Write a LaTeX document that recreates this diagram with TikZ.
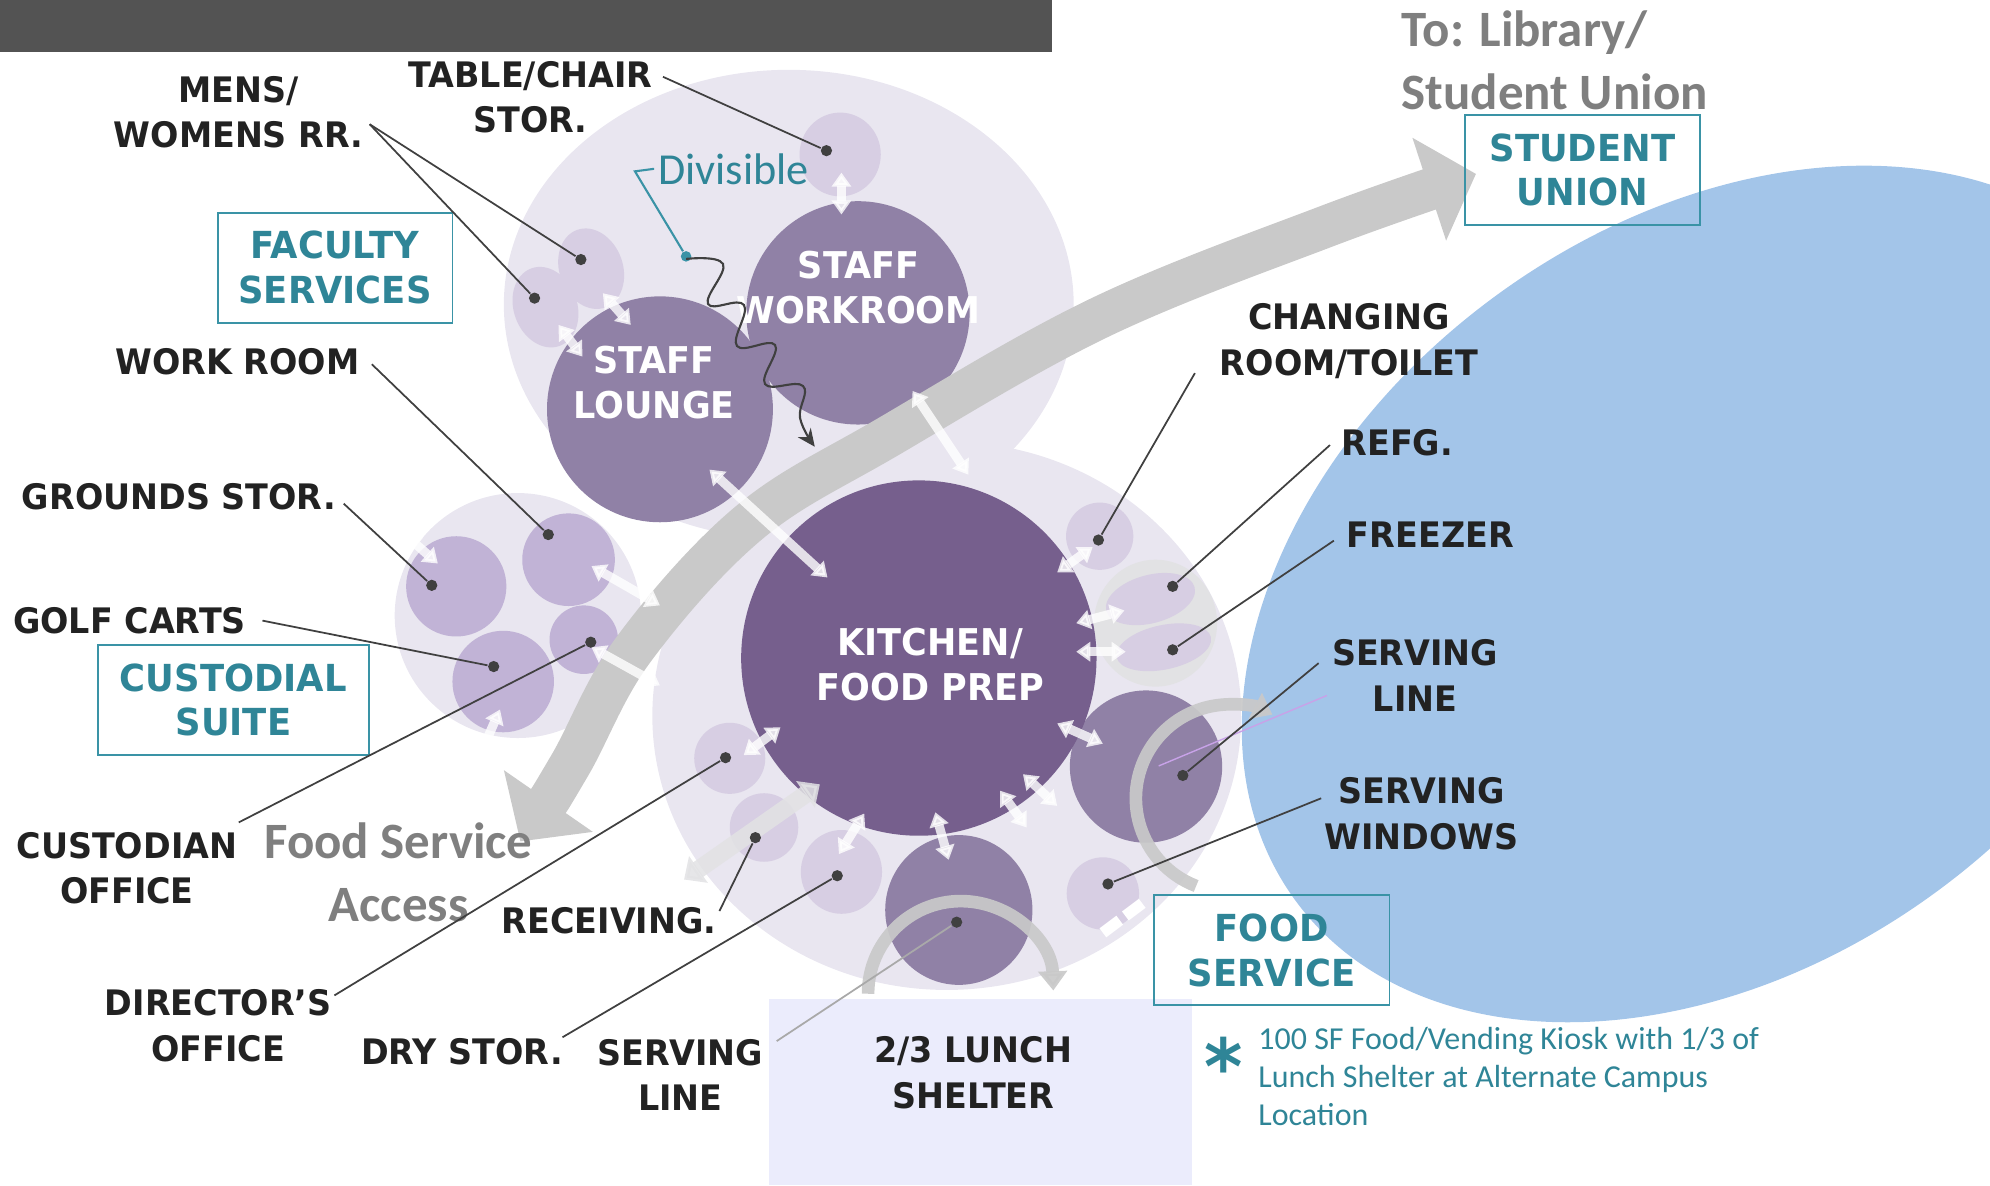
\documentclass[tikz,border=0pt]{standalone}
\usepackage{fontspec}
\setmainfont{DejaVu Sans}
\newfontface\labfont{DejaVu Sans Bold}[FakeStretch=0.95]
\newfontfamily\notefont{Carlito}
\usepackage{tikz}
\usetikzlibrary{arrows.meta,positioning}

\definecolor{barc}{HTML}{535353}
\definecolor{palebg}{HTML}{E9E6F0}
\definecolor{lightroom}{HTML}{D7CEE3}
\definecolor{custroom}{HTML}{C1B3D6}
\definecolor{midroom}{HTML}{9081A6}
\definecolor{kitchenc}{HTML}{765F8D}
\definecolor{bandgray}{HTML}{C9C9C9}
\definecolor{coolgray}{HTML}{E2E2E4}
\definecolor{skyblue}{HTML}{A3C5E9}
\definecolor{shelterc}{HTML}{EBECFC}
\definecolor{tealtxt}{HTML}{2F8597}
\definecolor{tealline}{HTML}{3A93A6}
\definecolor{labelc}{HTML}{222222}
\definecolor{leadc}{HTML}{404040}
\definecolor{grayt}{HTML}{7F7F7F}
\definecolor{lilac}{HTML}{C8A2E8}

\tikzset{
    lbl/.style={text=labelc, font=\labfont\fontsize{10}{13}\selectfont, align=center, inner sep=0pt},
    inlbl/.style={text=white, font=\labfont\fontsize{10.5}{12.8}\selectfont, align=center, inner sep=0pt},
    unitbox/.style={draw=tealline, line width=0.5pt, text=tealtxt, font=\labfont\fontsize{10.6}{12.8}\selectfont, align=center, inner sep=0pt},
    graylbl/.style={text=grayt, font=\notefont\bfseries\fontsize{14.5}{18}\selectfont, align=center, inner sep=0pt},
    divlbl/.style={text=tealtxt, font=\notefont\fontsize{12.6}{15}\selectfont, inner sep=1pt},
    notelbl/.style={text=tealtxt, font=\notefont\fontsize{9.1}{10.8}\selectfont, align=left, inner sep=0pt},
    dot/.style={circle, fill=leadc, inner sep=0pt, minimum size=3.2pt},
    tealdot/.style={circle, fill=tealline, inner sep=0pt, minimum size=3pt},
    leader/.style={draw=leadc, line width=0.5pt},
    flow/.style={draw=white, opacity=0.8, line width=2.6pt, {Triangle[width=5.4pt,length=4pt]}-{Triangle[width=5.4pt,length=4pt]}},
    wideflow/.style={draw=coolgray, opacity=0.85, line width=5pt, {Triangle[width=9pt,length=5pt]}-{Triangle[width=9pt,length=5pt]}},
    band/.style={draw=bandgray, line width=12pt, {Triangle[width=30pt,length=14pt]}-{Triangle[width=30pt,length=14pt]}},
    turn/.style={draw=bandgray, opacity=0.92, line width=3.6pt, -{Triangle[width=8pt,length=5.5pt]}},
    wiggle/.style={draw=leadc, line width=0.6pt, -{Stealth[length=5pt,width=4.5pt]}},
}

\begin{document}
\begin{tikzpicture}
        [x=0.012691cm, y=-0.012691cm]

        \useasboundingbox (0,0) rectangle (1568,934);

        \fill[barc] (0,0) rectangle (829,41);
        \begin{scope}
            \clip (0,0) rectangle (1568,934);
            \fill[skyblue, rotate around={36:(1352,468)}] (1352,468) ellipse [x radius=410, y radius=292];
        \end{scope}
        \fill[shelterc] (606,787) rectangle (939,934);

        % group backgrounds
        \fill[palebg] (621.5,240) ellipse [x radius=224.5, y radius=185];
        \fill[palebg] (408,485) ellipse [x radius=97, y radius=96.5];
        \fill[palebg] (746,564) ellipse [x radius=232, y radius=216];

        % faculty services
        \fill[lightroom] (662,121.7) ellipse [x radius=32, y radius=33];
        \fill[lightroom, rotate around={20:(465.8,211.7)}] (465.8,211.7) ellipse [x radius=25, y radius=32.5];
        \fill[lightroom, rotate around={20:(429.8,242)}] (429.8,242) ellipse [x radius=25, y radius=32.5];
        \fill[midroom] (676,246.5) circle [radius=88];
        \fill[midroom] (520,322.5) circle [radius=89];

        % custodial suite
        \fill[custroom] (359.5,462) circle [radius=39.5];
        \fill[custroom] (448,441) circle [radius=36.5];
        \fill[custroom] (396.5,537) circle [radius=40];
        \fill[custroom] (460,504) circle [radius=27];

        % food service
        \fill[lightroom] (866.5,422.5) circle [radius=26.5];
        \fill[coolgray] (910.5,491) ellipse [x radius=48.5, y radius=50];
        \fill[lightroom, rotate around={15:(906.5,472)}] (906.5,472) ellipse [x radius=36, y radius=19];
        \fill[lightroom, rotate around={12:(917,510)}] (917,510) ellipse [x radius=38, y radius=17.5];
        \fill[midroom] (903,604) circle [radius=60];
        \fill[lightroom] (869,704) circle [radius=28.5];
        \fill[midroom] (755.5,717) ellipse [x radius=58, y radius=59];
        \fill[lightroom] (663,687) ellipse [x radius=32, y radius=33];
        \fill[lightroom] (602,652) circle [radius=27];
        \fill[lightroom] (575,597.5) circle [radius=28];
        \fill[kitchenc] (724,518.5) circle [radius=140];

        % circulation
        \draw[band] plot[smooth, tension=0.6] coordinates {(410,663) (449,603) (499,512) (590,412) (700,344) (867,250) (1046,178) (1163,137)};
        \draw[turn] (942.5,698.1) arc[start angle=111, end angle=297, radius=74];
        \draw[turn] (684,783) arc[start angle=180, end angle=358, radius=73];
        \draw[wideflow] (539,693) -- (646,618);

        \draw[flow] (663,136) -- (663,169);
        \draw[flow] (475,231) -- (497,256);
        \draw[flow] (440,256) -- (459,281);
        \draw[flow] (559,370) -- (652,455);
        \draw[flow] (719,308) -- (763,374);
        \draw[flow] (320,422) -- (345,444);
        \draw[flow] (466,446) -- (520,477);
        \draw[flow] (466,510) -- (520,540);
        \draw[flow] (394,559) -- (376,600);
        \draw[flow] (833,451) -- (861,431);
        \draw[flow] (848,491) -- (886,481);
        \draw[flow] (848,513.5) -- (887,513.5);
        \draw[flow] (833,570) -- (869,586);
        \draw[flow] (586,595) -- (615,573);
        \draw[flow] (661,673) -- (681,641);
        \draw[flow] (737,640) -- (747.5,677.5);
        \draw[flow] (788,623) -- (809,652);
        \draw[flow] (806,610) -- (833,635);
        \draw[white, line width=3.2pt, dash pattern=on 6pt off 2pt] (869,735) -- (901,711);

        \coordinate (sl-a) at (913,603.5);
        \coordinate (sl-b) at (1045.5,548);
        \draw[lilac, line width=0.4pt] (sl-a) -- (sl-b);

        % room names
        \node[inlbl] (workroom) at (676.5,226.5) {STAFF\\WORKROOM};
        \node[inlbl] (lounge) at (515.4,301.3) {STAFF\\LOUNGE};
        \node[inlbl] (kitchen) at (733,523.7) {KITCHEN/\\FOOD PREP};

        \node[unitbox, minimum width=66.8pt, minimum height=31.4pt] (faculty) at (264,211) {FACULTY\\SERVICES};
        \node[unitbox, minimum width=77.1pt, minimum height=31.4pt] (custodial) at (183.9,551.5) {CUSTODIAL\\SUITE};
        \node[unitbox, minimum width=67pt, minimum height=31.3pt] (studentu) at (1246.8,133.9) {STUDENT\\UNION};
        \node[unitbox, minimum width=67.1pt, minimum height=31.4pt] (foodsvc) at (1002,748.5) {FOOD\\SERVICE};

        \node[graylbl, anchor=west, align=left] (tolib) at (1104,47.5) {To: Library/\\Student Union};
        \node[graylbl] (fsaccess) at (314,687.5) {Food Service\\Access};

        \node[lbl] (mens) at (188,88.5) {MENS/\\WOMENS RR.};
        \node[lbl] (tablechair) at (418,76.5) {TABLE/CHAIR\\STOR.};
        \node[lbl] (workrm) at (187,285) {WORK ROOM};
        \node[lbl] (grounds) at (141,391) {GROUNDS STOR.};
        \node[lbl] (golf) at (102,489) {GOLF CARTS};
        \node[lbl] (custodian) at (100,684) {CUSTODIAN\\OFFICE};
        \node[lbl] (director) at (172,808) {DIRECTOR’S\\OFFICE};
        \node[lbl] (drystor) at (364,829) {DRY STOR.};
        \node[lbl] (servlineb) at (536,847) {SERVING\\LINE};
        \node[lbl] (receiving) at (480,725.6) {RECEIVING.};
        \node[lbl] (shelter) at (767,845.3) {2/3 LUNCH\\SHELTER};
        \node[lbl] (changing) at (1063,269) {CHANGING\\ROOM/TOILET};
        \node[lbl] (refg) at (1101,349) {REFG.};
        \node[lbl] (freezer) at (1127,421) {FREEZER};
        \node[lbl] (servliner) at (1115,532) {SERVING\\LINE};
        \node[lbl] (windows) at (1120,641) {SERVING\\WINDOWS};

        % leaders
        \node[dot] (d-table) at (651.2,118.7) {};
        \node[dot] (d-mens1) at (457.7,204.5) {};
        \node[dot] (d-mens2) at (421.2,234.9) {};
        \node[dot] (d-work) at (432,421.2) {};
        \node[dot] (d-grounds) at (340.2,461.2) {};
        \node[dot] (d-golf) at (389,525.2) {};
        \node[dot] (d-custodian) at (465.5,506) {};
        \node[dot] (d-director) at (571.7,597) {};
        \node[dot] (d-dry) at (659.7,690) {};
        \node[dot] (d-receiving) at (595.2,660) {};
        \node[dot] (d-servb) at (753.8,726.6) {};
        \node[dot] (d-changing) at (865.5,425.5) {};
        \node[dot] (d-refg) at (924,462) {};
        \node[dot] (d-freezer) at (924,512) {};
        \node[dot] (d-servr) at (932,611) {};
        \node[dot] (d-windows) at (873,696.5) {};

        \coordinate (l-table) at (522.4,60.5);
        \coordinate (l-mens) at (291.3,97.9);
        \coordinate (l-work) at (293,287);
        \coordinate (l-grounds) at (270.8,396.8);
        \coordinate (l-golf) at (206.8,489);
        \coordinate (l-custodian) at (188.1,648);
        \coordinate (l-director) at (263.5,784.3);
        \coordinate (l-dry) at (443.2,817.3);
        \coordinate (l-receiving) at (566.9,717.8);
        \coordinate (l-servb) at (612,820.3);
        \coordinate (l-changing) at (941.5,294);
        \coordinate (l-refg) at (1047.9,350.7);
        \coordinate (l-freezer) at (1051,426);
        \coordinate (l-servr) at (1039,522.5);
        \coordinate (l-windows) at (1041,629);

        \draw[leader] (l-table) -- (d-table);
        \draw[leader] (l-mens) -- (d-mens1);
        \draw[leader] (l-mens) -- (d-mens2);
        \draw[leader] (l-work) -- (d-work);
        \draw[leader] (l-grounds) -- (d-grounds);
        \draw[leader] (l-golf) -- (d-golf);
        \draw[leader] (l-custodian) -- (d-custodian);
        \draw[leader] (l-director) -- (d-director);
        \draw[leader] (l-dry) -- (d-dry);
        \draw[leader] (l-receiving) -- (d-receiving);
        \draw[leader, draw=leadc!45] (l-servb) -- (d-servb);
        \draw[leader] (l-changing) -- (d-changing);
        \draw[leader] (l-refg) -- (d-refg);
        \draw[leader] (l-freezer) -- (d-freezer);
        \draw[leader] (l-servr) -- (d-servr);
        \draw[leader] (l-windows) -- (d-windows);

        % divisible
        \node[divlbl] (divisible) at (578,133) {Divisible};
        \coordinate (div-tick) at (500.3,135);
        \node[tealdot] (div-dot) at (540.6,202) {};
        \draw[draw=tealline, line width=0.6pt] (divisible.west) -- (div-tick) -- (div-dot);
        \draw[wiggle] plot[smooth, tension=0.7] coordinates {(540.6,204) (569.7,208) (557.9,239.5) (586.2,240.3) (580.7,272.6) (610.7,271.8) (602.8,302.6) (632.7,304.1) (630.4,329.4) (642,352)};

        % kiosk note
        \node[text=tealtxt, font=\labfont\fontsize{22}{22}\selectfont, inner sep=0pt] (star) at (964,840) {*};
        \node[notelbl, anchor=west] (kiosk) at (991,848) {100 SF Food/Vending Kiosk with 1/3 of\\Lunch Shelter at Alternate Campus\\Location};

    \end{tikzpicture}
\end{document}
